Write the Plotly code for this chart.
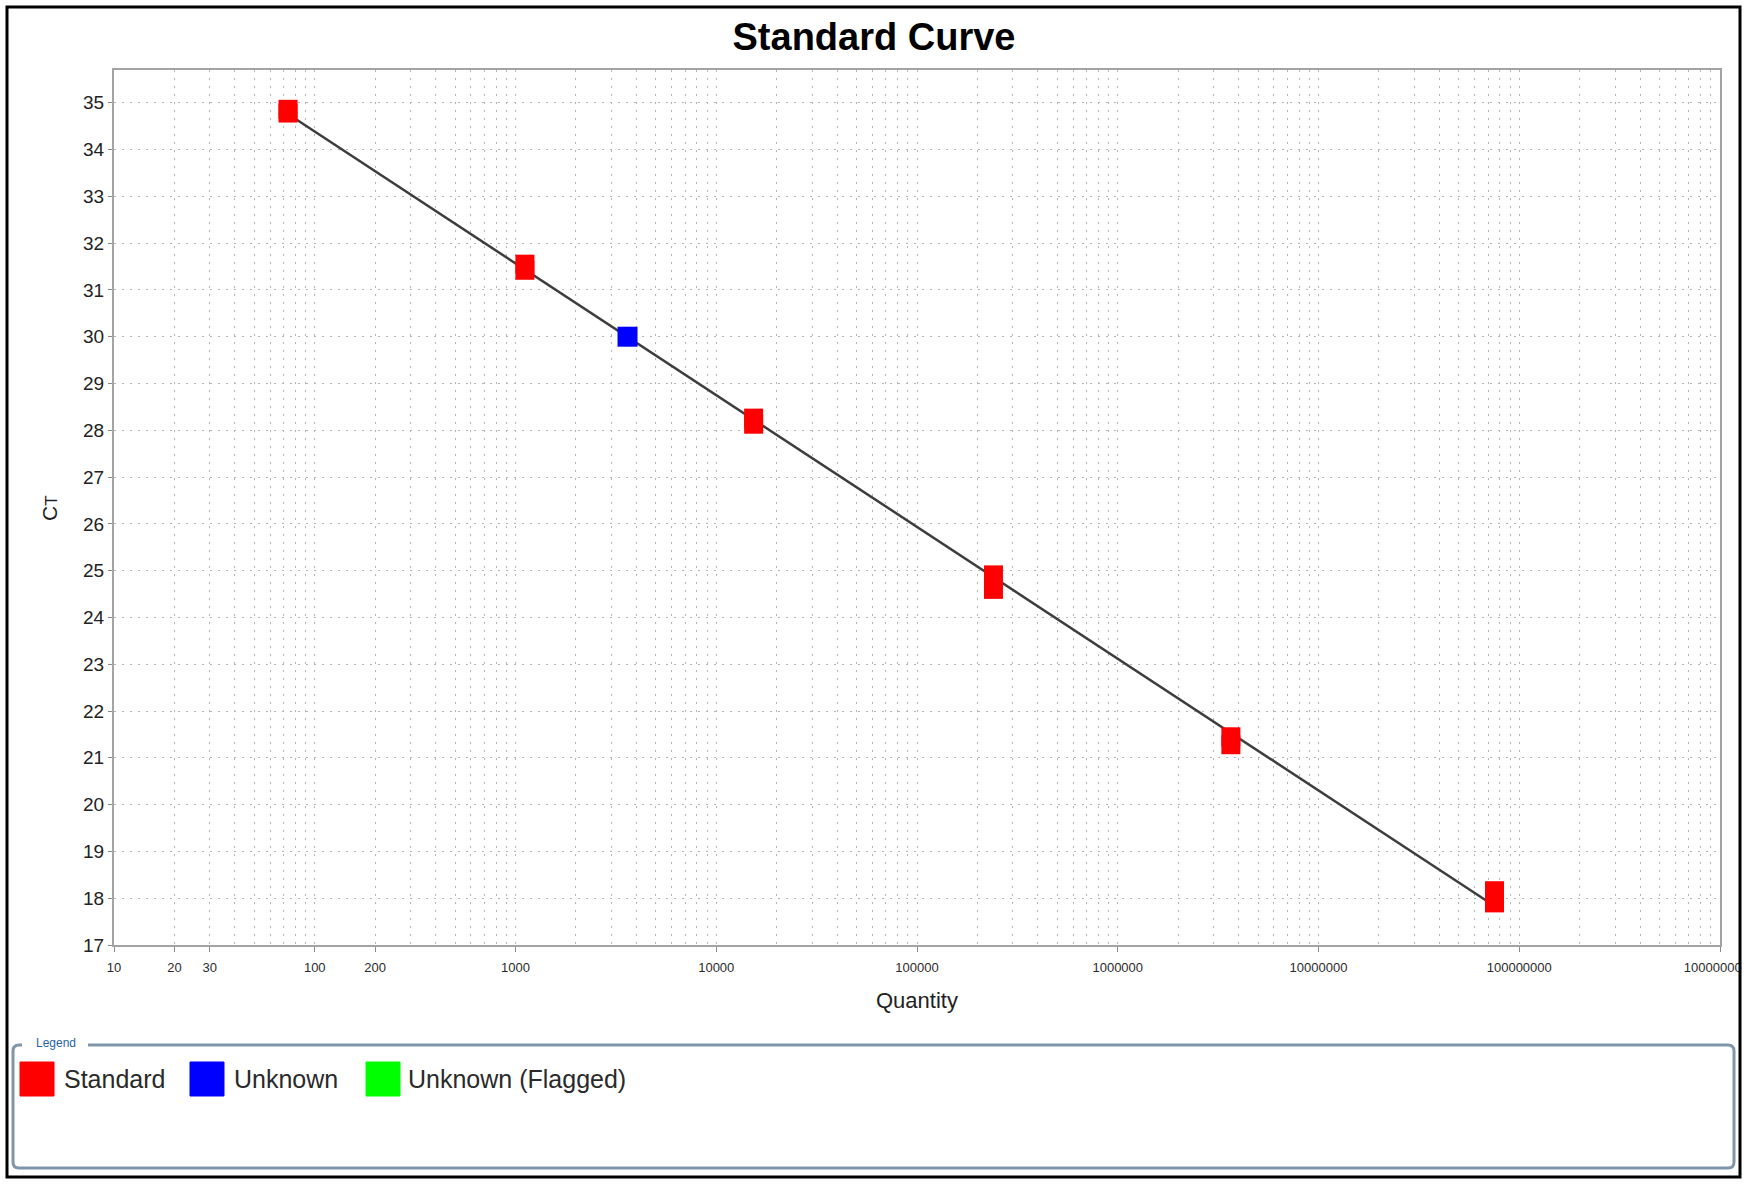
import numpy as np
import plotly.graph_objects as go

# ---------------- data ----------------
std_quantity = [73.6, 73.6, 1114, 1114, 15350, 15350, 240400, 240400,
                3.66e6, 3.66e6, 7.53e7, 7.53e7]
std_ct = [34.86, 34.78, 31.55, 31.42, 28.26, 28.13, 24.91, 24.60,
          21.45, 21.28, 18.16, 17.90]
unknown_quantity = [3614]
unknown_ct = [30.0]
x_tick_values = [10, 20, 30, 100, 200, 1000, 1e4, 1e5, 1e6, 1e7, 1e8, 1e9]
x_tick_labels = ["10", "20", "30", "100", "200", "1000", "10000", "100000",
                 "1000000", "10000000", "100000000", "1000000000"]
legend_labels = ["Standard", "Unknown", "Unknown (Flagged)"]
legend_colors = ["#ff0000", "#0000ff", "#00ff00"]

# ---------------- geometry (pixels) ----------------
FIG_W, FIG_H = 1748, 1185
L, R, T, B = 114, 1720, 70, 945


def px(x):
    return (x - L) / (R - L)


def py(y):
    return (B - y) / (B - T)


FONT = "Liberation Sans, Arial, sans-serif"
GRID_COLOR = "#b5b5b5"
GRID_DASH = "2px,6px"
AXIS_COLOR = "#a3a3a3"

# regression line through the standards
slope, intercept = np.polyfit(np.log10(std_quantity), std_ct, 1)
line_q = [min(std_quantity), max(std_quantity)]
line_ct = [slope * np.log10(q) + intercept for q in line_q]

fig = go.Figure()
fig.add_trace(go.Scatter(x=line_q, y=line_ct, mode="lines",
                         line=dict(color="#3d3d3d", width=2.5),
                         showlegend=False, hoverinfo="skip"))
fig.add_trace(go.Scatter(x=std_quantity, y=std_ct, mode="markers",
                         name=legend_labels[0],
                         marker=dict(symbol="square", size=19,
                                     color=legend_colors[0], line=dict(width=0)),
                         showlegend=False))
fig.add_trace(go.Scatter(x=unknown_quantity, y=unknown_ct, mode="markers",
                         name=legend_labels[1],
                         marker=dict(symbol="square", size=20,
                                     color=legend_colors[1], line=dict(width=0)),
                         showlegend=False))

minor_vals = [m * 10 ** d for d in range(1, 9) for m in range(2, 10)]

fig.update_xaxes(
    type="log", range=[1 - 1e-6, 9 + 1e-6], automargin=False,
    tickmode="array", tickvals=x_tick_values, ticktext=x_tick_labels,
    ticks="outside", ticklen=5, tickcolor="#8a8a8a", tickwidth=1,
    ticklabelstandoff=4,
    tickfont=dict(family=FONT, size=13, color="#2b2b2b"),
    ticklabeloverflow="allow",
    showgrid=True, gridcolor=GRID_COLOR, griddash=GRID_DASH, gridwidth=1,
    minor=dict(tickmode="array", tickvals=minor_vals, showgrid=True,
               gridcolor=GRID_COLOR, griddash=GRID_DASH, gridwidth=1,
               ticks=""),
    showline=True, linecolor=AXIS_COLOR, linewidth=2, mirror=True,
    zeroline=False,
)
fig.update_yaxes(
    range=[17, 35.7], tick0=17, dtick=1, automargin=False,
    ticks="outside", ticklen=4, tickcolor="#8a8a8a", tickwidth=1,
    tickfont=dict(family=FONT, size=19, color="#222222"),
    showgrid=True, gridcolor=GRID_COLOR, griddash=GRID_DASH, gridwidth=1,
    showline=True, linecolor=AXIS_COLOR, linewidth=2, mirror=True,
    zeroline=False,
)

shapes = []
# white strip beyond the outer frame (clips the last tick label like the reference)
shapes.append(dict(type="rect", xref="paper", yref="paper",
                   x0=px(1741.5), x1=px(1770), y0=py(1185), y1=py(0),
                   line=dict(width=0), fillcolor="#ffffff", layer="above"))
# outer black frame
shapes.append(dict(type="rect", xref="paper", yref="paper",
                   x0=px(7), x1=px(1740), y0=py(7), y1=py(1177),
                   line=dict(color="#000000", width=3), fillcolor="rgba(0,0,0,0)"))

# legend frame (rounded, with a gap for the caption)
lx0, lx1, ly0, ly1, rad = 13, 1734, 1045, 1168, 6
gap0, gap1 = 22, 88


def P(x, y):
    return f"{px(x)},{py(y)}"


path = (f"M {P(gap0, ly0)} L {P(lx0 + rad, ly0)} Q {P(lx0, ly0)} {P(lx0, ly0 + rad)} "
        f"L {P(lx0, ly1 - rad)} Q {P(lx0, ly1)} {P(lx0 + rad, ly1)} "
        f"L {P(lx1 - rad, ly1)} Q {P(lx1, ly1)} {P(lx1, ly1 - rad)} "
        f"L {P(lx1, ly0 + rad)} Q {P(lx1, ly0)} {P(lx1 - rad, ly0)} "
        f"L {P(gap1, ly0)}")
shapes.append(dict(type="path", xref="paper", yref="paper", path=path,
                   line=dict(color="#7f97a9", width=3)))

# legend swatches
swatch_x = [20, 190, 366]
text_x = [62, 232, 406]
sw_y0, sw_y1, text_y = 1062, 1096, 1079
annotations = []
for lab, col, sx, tx in zip(legend_labels, legend_colors, swatch_x, text_x):
    shapes.append(dict(type="rect", xref="paper", yref="paper",
                       x0=px(sx), x1=px(sx + 34), y0=py(sw_y1), y1=py(sw_y0),
                       fillcolor=col, line=dict(color=col, width=1)))
    annotations.append(dict(xref="paper", yref="paper", x=px(tx), y=py(text_y),
                            text=lab, showarrow=False, xanchor="left", yanchor="middle",
                            font=dict(family=FONT, size=25, color="#2a2a2a")))

annotations.append(dict(xref="paper", yref="paper", x=px(34), y=py(1043),
                        text="Legend", showarrow=False, xanchor="left", yanchor="middle",
                        font=dict(family=FONT, size=12, color="#2a64a8")))
annotations.append(dict(xref="paper", yref="paper", x=px(917), y=py(1000),
                        text="Quantity", showarrow=False, xanchor="center", yanchor="middle",
                        font=dict(family=FONT, size=22, color="#222222")))
annotations.append(dict(xref="paper", yref="paper", x=px(49), y=py(508),
                        text="C<span style='font-size:17px'>T</span>", showarrow=False,
                        textangle=-90, xanchor="center", yanchor="middle",
                        font=dict(family=FONT, size=21, color="#222222")))

fig.update_layout(
    width=FIG_W, height=FIG_H, autosize=False,
    margin=dict(l=L, r=FIG_W - R, t=T, b=FIG_H - B, pad=0, autoexpand=False),
    paper_bgcolor="#ffffff", plot_bgcolor="#ffffff",
    title=dict(text="<b>Standard Curve</b>", x=0.5, xref="container",
               xanchor="center", y=1 - 37 / FIG_H, yref="container", yanchor="middle",
               font=dict(family=FONT, size=38, color="#000000")),
    shapes=shapes, annotations=annotations, showlegend=False,
)

fig.write_html(
    "out.html",
    config={"displayModeBar": False, "displaylogo": False},
    post_script=("document.documentElement.style.margin='0';"
                 "document.body.style.margin='0';"
                 "document.documentElement.style.overflow='hidden';"
                 "document.body.style.overflow='hidden';"),
)
